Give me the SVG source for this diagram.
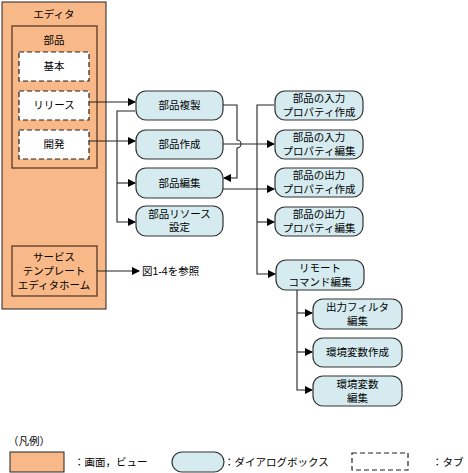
<svg xmlns="http://www.w3.org/2000/svg" width="468" height="473" viewBox="0 0 468 473">
<defs>
<marker id="ah" markerWidth="8" markerHeight="8" refX="7" refY="4" orient="auto" markerUnits="userSpaceOnUse">
<path d="M0,0 L8,4 L0,8 Z" fill="#000"/>
</marker>
<style>
text{font-family:"Liberation Sans","Noto Sans CJK JP",sans-serif;font-size:10.5px;fill:#000;text-anchor:middle}
.screen{fill:#F8B887;stroke:#222;stroke-width:1}
.inner{fill:#F8B887;stroke:#5a3a28;stroke-width:1.3}
.tab{fill:#fff;stroke:#222;stroke-width:1.2;stroke-dasharray:5,3}
.dlg{fill:#D5EBF0;stroke:#333;stroke-width:1.2}
.con{fill:none;stroke:#222;stroke-width:1.1}
.left{text-anchor:start}
</style>
</defs>
<g id="editor">
<rect class="screen" x="2" y="2" width="104" height="307"/>
<text x="54" y="18">エディタ</text>
</g>
<g id="parts">
<rect class="inner" x="12" y="26" width="85" height="142"/>
<text x="54" y="44">部品</text>
</g>
<g id="tab-basic"><rect class="tab" x="19" y="52" width="70" height="29"/><text x="54" y="70">基本</text></g>
<g id="tab-release"><rect class="tab" x="19" y="91" width="70" height="29"/><text x="54" y="109">リリース</text></g>
<g id="tab-dev"><rect class="tab" x="19" y="130" width="70" height="29"/><text x="54" y="148">開発</text></g>
<g id="service">
<rect class="inner" x="12" y="246" width="85" height="50"/>
<text x="54" y="261">サービス</text>
<text x="54" y="275">テンプレート</text>
<text x="54" y="289">エディタホーム</text>
</g>
<g id="d-copy"><rect class="dlg" x="136" y="91" width="87" height="29" rx="10"/><text x="179.5" y="109">部品複製</text></g>
<g id="d-create"><rect class="dlg" x="136" y="130" width="87" height="29" rx="10"/><text x="179.5" y="148">部品作成</text></g>
<g id="d-edit"><rect class="dlg" x="136" y="168" width="87" height="30" rx="10"/><text x="179.5" y="187">部品編集</text></g>
<g id="d-res"><rect class="dlg" x="136" y="206" width="87" height="30" rx="10"/><text x="179.5" y="218">部品リソース</text><text x="179.5" y="231">設定</text></g>
<g id="d-in-create"><rect class="dlg" x="275" y="91" width="88" height="29" rx="10"/><text x="319" y="102">部品の入力</text><text x="319" y="116">プロパティ作成</text></g>
<g id="d-in-edit"><rect class="dlg" x="275" y="130" width="88" height="29" rx="10"/><text x="319" y="141">部品の入力</text><text x="319" y="155">プロパティ編集</text></g>
<g id="d-out-create"><rect class="dlg" x="275" y="168" width="88" height="29" rx="10"/><text x="319" y="179">部品の出力</text><text x="319" y="193">プロパティ作成</text></g>
<g id="d-out-edit"><rect class="dlg" x="275" y="207" width="88" height="29" rx="10"/><text x="319" y="218">部品の出力</text><text x="319" y="232">プロパティ編集</text></g>
<g id="d-remote"><rect class="dlg" x="276" y="260" width="88" height="30" rx="10"/><text x="320" y="272">リモート</text><text x="320" y="286">コマンド編集</text></g>
<g id="d-filter"><rect class="dlg" x="313" y="299" width="89" height="30" rx="10"/><text x="357.5" y="311">出力フィルタ</text><text x="357.5" y="325">編集</text></g>
<g id="d-env-create"><rect class="dlg" x="313" y="338" width="89" height="29" rx="10"/><text x="357.5" y="356">環境変数作成</text></g>
<g id="d-env-edit"><rect class="dlg" x="313" y="376" width="89" height="30" rx="10"/><text x="357.5" y="388">環境変数</text><text x="357.5" y="402">編集</text></g>
<text class="left" x="142" y="275">図1-4を参照</text>
<g id="connectors">
<path class="con" d="M89,102 H135" marker-end="url(#ah)"/>
<path class="con" d="M89,141 H135" marker-end="url(#ah)"/>
<path class="con" d="M135,111 H117 V222 H135" marker-end="url(#ah)"/>
<path class="con" d="M117,183 H135" marker-end="url(#ah)"/>
<path class="con" d="M223,105 H237 V140 A4,4 0 0 1 237,148 V178 H224" marker-end="url(#ah)"/>
<path class="con" d="M223,144 H274" marker-end="url(#ah)"/>
<path class="con" d="M223,189 H274" marker-end="url(#ah)"/>
<path class="con" d="M274,105 H257 V274 H275" marker-end="url(#ah)"/>
<path class="con" d="M257,222 H274" marker-end="url(#ah)"/>
<path class="con" d="M297,290 V390 H312" marker-end="url(#ah)"/>
<path class="con" d="M297,313 H312" marker-end="url(#ah)"/>
<path class="con" d="M297,352 H312" marker-end="url(#ah)"/>
<path class="con" d="M97,271 H139" marker-end="url(#ah)"/>
</g>
<g id="legend">
<text class="left" x="8" y="445">（凡例）</text>
<rect class="screen" x="10" y="452" width="54" height="20"/>
<text class="left" x="74" y="466">：画面，ビュー</text>
<rect class="dlg" x="172" y="452" width="52" height="20" rx="10"/>
<text class="left" x="224" y="466">：ダイアログボックス</text>
<rect class="tab" x="352" y="453" width="56" height="17"/>
<text class="left" x="432" y="466">：タブ</text>
</g>
</svg>
